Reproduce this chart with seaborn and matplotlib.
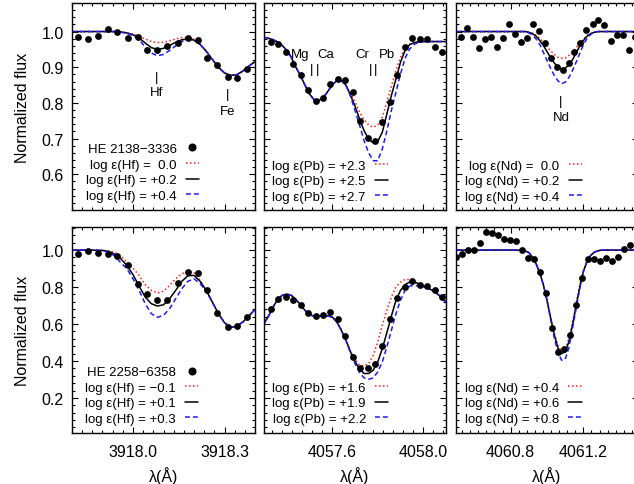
import numpy as np
import pandas as pd
import matplotlib
matplotlib.use("Agg")
import matplotlib.pyplot as plt
from matplotlib.lines import Line2D
from matplotlib.ticker import FixedLocator, MultipleLocator, FormatStrFormatter
import seaborn as sns

# ---------------------------------------------------------------- data
# Hf 3918 region (both stars share the same pixel sampling)
hf_obs_wl = [3917.819, 3917.852, 3917.884, 3917.917, 3917.949, 3917.982, 3918.015,
             3918.047, 3918.080, 3918.113, 3918.146, 3918.179, 3918.212, 3918.244,
             3918.277, 3918.310, 3918.342, 3918.375]
hf_grid = [3917.80, 3917.82, 3917.84, 3917.86, 3917.88, 3917.90, 3917.92, 3917.94,
           3917.96, 3917.98, 3918.00, 3918.02, 3918.04, 3918.06, 3918.08, 3918.10,
           3918.12, 3918.14, 3918.16, 3918.18, 3918.20, 3918.22, 3918.24, 3918.26,
           3918.28, 3918.30, 3918.32, 3918.34, 3918.36, 3918.38, 3918.40]

# HE 2138-3336, Hf
hf_a_obs = [0.984, 0.978, 0.988, 1.007, 1.000, 0.983, 0.984, 0.949, 0.947, 0.959,
            0.967, 0.983, 0.977, 0.925, 0.905, 0.872, 0.871, 0.894]
hf_a_lo = [1.000, 1.000, 1.000, 1.000, 1.000, 1.000, 1.000, 1.000, 0.999, 0.997,
           0.993, 0.987, 0.979, 0.972, 0.969, 0.970, 0.974, 0.979, 0.983, 0.984,
           0.978, 0.964, 0.945, 0.922, 0.900, 0.884, 0.877, 0.879, 0.889, 0.903, 0.916]
hf_a_mid = [1.000, 1.000, 1.000, 1.000, 1.000, 1.000, 1.000, 1.000, 0.999, 0.996,
            0.991, 0.982, 0.968, 0.955, 0.950, 0.953, 0.961, 0.970, 0.977, 0.979,
            0.976, 0.964, 0.945, 0.922, 0.900, 0.884, 0.877, 0.879, 0.889, 0.903, 0.916]
hf_a_hi = [1.000, 1.000, 1.000, 1.000, 1.000, 1.000, 1.000, 1.000, 0.998, 0.995,
           0.989, 0.977, 0.957, 0.940, 0.932, 0.936, 0.947, 0.960, 0.972, 0.977,
           0.975, 0.964, 0.945, 0.922, 0.900, 0.884, 0.877, 0.879, 0.889, 0.903, 0.916]
hf_a_labels = ["log \u03b5(Hf) =  0.0", "log \u03b5(Hf) = +0.2", "log \u03b5(Hf) = +0.4"]

# HE 2258-6358, Hf
hf_b_obs = [0.980, 0.993, 0.986, 0.980, 0.966, 0.921, 0.816, 0.762, 0.732, 0.728,
            0.823, 0.881, 0.876, 0.786, 0.659, 0.584, 0.591, 0.640]
hf_b_lo = [1.000, 1.000, 1.000, 1.000, 1.000, 0.999, 0.996, 0.987, 0.968, 0.935,
           0.903, 0.863, 0.813, 0.782, 0.768, 0.777, 0.809, 0.845, 0.872, 0.885,
           0.877, 0.836, 0.782, 0.719, 0.656, 0.607, 0.582, 0.587, 0.611, 0.643, 0.679]
hf_b_mid = [1.000, 1.000, 1.000, 1.000, 0.999, 0.998, 0.993, 0.978, 0.953, 0.917,
            0.867, 0.805, 0.746, 0.710, 0.697, 0.704, 0.737, 0.782, 0.831, 0.861,
            0.863, 0.831, 0.782, 0.719, 0.656, 0.607, 0.582, 0.587, 0.611, 0.643, 0.679]
hf_b_hi = [1.000, 1.000, 1.000, 1.000, 0.999, 0.997, 0.989, 0.968, 0.932, 0.899,
           0.845, 0.782, 0.710, 0.656, 0.636, 0.647, 0.683, 0.737, 0.791, 0.831,
           0.845, 0.818, 0.778, 0.719, 0.656, 0.607, 0.582, 0.587, 0.611, 0.643, 0.679]
hf_b_labels = ["log \u03b5(Hf) = \u22120.1", "log \u03b5(Hf) = +0.1", "log \u03b5(Hf) = +0.3"]

# Pb 4057.8 region
pb_obs_wl = [4057.329, 4057.361, 4057.395, 4057.427, 4057.461, 4057.493, 4057.527,
             4057.559, 4057.592, 4057.625, 4057.658, 4057.691, 4057.724, 4057.757,
             4057.787, 4057.820, 4057.853, 4057.886, 4057.918, 4057.951, 4057.984,
             4058.016, 4058.050, 4058.082]
pb_grid = [4057.30, 4057.32, 4057.34, 4057.36, 4057.38, 4057.40, 4057.42, 4057.44,
           4057.46, 4057.48, 4057.50, 4057.52, 4057.54, 4057.56, 4057.58, 4057.60,
           4057.62, 4057.64, 4057.66, 4057.68, 4057.70, 4057.72, 4057.74, 4057.76,
           4057.78, 4057.80, 4057.82, 4057.84, 4057.86, 4057.88, 4057.90, 4057.92,
           4057.94, 4057.96, 4057.98, 4058.00, 4058.02, 4058.04, 4058.06, 4058.08,
           4058.10]

pb_a_obs = [0.970, 0.964, 0.944, 0.909, 0.879, 0.837, 0.805, 0.813, 0.852, 0.867,
            0.864, 0.830, 0.748, 0.701, 0.692, 0.746, 0.802, 0.879, 0.956, 0.981,
            0.978, 0.978, 0.958, 0.942]
pb_a_lo = [0.984, 0.981, 0.977, 0.971, 0.961, 0.947, 0.928, 0.900, 0.877, 0.850,
           0.825, 0.809, 0.807, 0.814, 0.832, 0.850, 0.863, 0.862, 0.850,
           0.827, 0.804, 0.774, 0.753, 0.738, 0.732, 0.738, 0.760, 0.802, 0.847,
           0.891, 0.928, 0.953, 0.965, 0.970, 0.972, 0.972, 0.972, 0.972, 0.972,
           0.972, 0.972]
pb_a_mid = [0.984, 0.981, 0.977, 0.971, 0.961, 0.947, 0.928, 0.900, 0.877, 0.850,
            0.825, 0.809, 0.807, 0.814, 0.832, 0.850, 0.863, 0.862, 0.850,
            0.822, 0.791, 0.755, 0.722, 0.699, 0.688, 0.692, 0.718, 0.769, 0.821,
            0.867, 0.914, 0.947, 0.963, 0.969, 0.971, 0.972, 0.972, 0.972, 0.972,
            0.972, 0.972]
pb_a_hi = [0.984, 0.981, 0.977, 0.971, 0.961, 0.947, 0.928, 0.900, 0.877, 0.850,
           0.825, 0.809, 0.807, 0.814, 0.832, 0.850, 0.863, 0.862, 0.850,
           0.819, 0.779, 0.738, 0.694, 0.660, 0.638, 0.638, 0.671, 0.722, 0.779,
           0.830, 0.881, 0.925, 0.951, 0.964, 0.970, 0.972, 0.972, 0.972, 0.972,
           0.972, 0.972]
pb_a_labels = ["log \u03b5(Pb) = +2.3", "log \u03b5(Pb) = +2.5", "log \u03b5(Pb) = +2.7"]

pb_b_obs = [0.683, 0.737, 0.746, 0.728, 0.701, 0.661, 0.643, 0.647, 0.665, 0.629,
            0.533, 0.422, 0.362, 0.362, 0.386, 0.481, 0.629, 0.741, 0.800, 0.831,
            0.813, 0.804, 0.786, 0.748]
pb_b_lo = [0.602, 0.643, 0.692, 0.733, 0.755, 0.762, 0.755, 0.733, 0.705, 0.674,
           0.651, 0.642, 0.643, 0.643, 0.643, 0.638, 0.611, 0.566, 0.512,
           0.455, 0.409, 0.377, 0.373, 0.386, 0.431, 0.503, 0.593, 0.674, 0.746,
           0.800, 0.827, 0.841, 0.841, 0.831, 0.818, 0.805, 0.795, 0.782, 0.764,
           0.746, 0.715]
pb_b_mid = [0.602, 0.643, 0.692, 0.733, 0.755, 0.762, 0.755, 0.733, 0.705, 0.674,
            0.651, 0.642, 0.643, 0.643, 0.643, 0.638, 0.611, 0.566, 0.512,
            0.449, 0.398, 0.355, 0.332, 0.332, 0.350, 0.395, 0.467, 0.553, 0.643,
            0.728, 0.782, 0.813, 0.827, 0.827, 0.818, 0.805, 0.795, 0.782, 0.764,
            0.746, 0.715]
pb_b_hi = [0.602, 0.643, 0.692, 0.733, 0.755, 0.762, 0.755, 0.733, 0.705, 0.674,
           0.651, 0.642, 0.643, 0.643, 0.643, 0.638, 0.611, 0.566, 0.512,
           0.445, 0.386, 0.337, 0.308, 0.301, 0.308, 0.341, 0.395, 0.476, 0.566,
           0.656, 0.728, 0.782, 0.805, 0.809, 0.805, 0.800, 0.795, 0.782, 0.764,
           0.746, 0.715]
pb_b_labels = ["log \u03b5(Pb) = +1.6", "log \u03b5(Pb) = +1.9", "log \u03b5(Pb) = +2.2"]

# Nd 4061.08 region
nd_obs_wl = [4060.528, 4060.561, 4060.594, 4060.628, 4060.661, 4060.694, 4060.727,
             4060.760, 4060.791, 4060.824, 4060.855, 4060.888, 4060.921, 4060.954,
             4060.987, 4061.020, 4061.053, 4061.086, 4061.119, 4061.150, 4061.183,
             4061.216, 4061.250, 4061.282, 4061.315, 4061.349, 4061.382, 4061.415,
             4061.448, 4061.481]
nd_grid = [4060.50, 4060.60, 4060.70, 4060.80, 4060.86, 4060.88, 4060.90, 4060.92,
           4060.94, 4060.96, 4060.98, 4061.00, 4061.02, 4061.04, 4061.06, 4061.08,
           4061.10, 4061.12, 4061.14, 4061.16, 4061.18, 4061.20, 4061.22, 4061.24,
           4061.26, 4061.28, 4061.30, 4061.40, 4061.50]

nd_a_obs = [0.984, 1.009, 0.984, 0.954, 0.978, 0.984, 0.956, 0.981, 1.021, 0.992,
            0.970, 0.982, 1.022, 1.002, 0.967, 0.927, 0.902, 0.893, 0.911, 0.942,
            0.967, 1.003, 1.020, 1.031, 1.019, 0.973, 0.990, 0.991, 0.949, 0.984]
nd_a_lo = [1.000, 1.000, 1.000, 1.000, 1.000, 1.000, 0.998, 0.995, 0.990, 0.981,
           0.970, 0.958, 0.946, 0.936, 0.928, 0.925, 0.926, 0.933, 0.942, 0.955,
           0.967, 0.979, 0.989, 0.994, 0.998, 1.000, 1.000, 1.000, 1.000]
nd_a_mid = [1.000, 1.000, 1.000, 1.000, 1.000, 1.000, 0.998, 0.994, 0.987, 0.975,
            0.961, 0.944, 0.927, 0.912, 0.901, 0.895, 0.897, 0.907, 0.921, 0.940,
            0.959, 0.975, 0.987, 0.994, 0.998, 1.000, 1.000, 1.000, 1.000]
nd_a_hi = [1.000, 1.000, 1.000, 1.000, 1.000, 1.000, 0.996, 0.991, 0.979, 0.964,
           0.942, 0.919, 0.897, 0.877, 0.862, 0.854, 0.858, 0.871, 0.891, 0.914,
           0.939, 0.963, 0.981, 0.992, 0.998, 1.000, 1.000, 1.000, 1.000]
nd_a_labels = ["log \u03b5(Nd) =  0.0", "log \u03b5(Nd) = +0.2", "log \u03b5(Nd) = +0.4"]

nd_b_obs = [0.962, 0.980, 0.998, 0.998, 1.036, 1.097, 1.095, 1.079, 1.061, 1.052,
            1.049, 1.002, 0.957, 0.950, 0.881, 0.766, 0.578, 0.449, 0.463, 0.539,
            0.701, 0.849, 0.950, 0.950, 0.941, 0.957, 0.939, 0.962, 1.007, 1.029]
nd_b_obs_wl = [4060.501, 4060.534, 4060.567, 4060.600, 4060.633, 4060.666, 4060.699,
               4060.732, 4060.765, 4060.798, 4060.831, 4060.864, 4060.895, 4060.928,
               4060.960, 4060.994, 4061.026, 4061.061, 4061.094, 4061.125, 4061.158,
               4061.191, 4061.224, 4061.257, 4061.290, 4061.323, 4061.356, 4061.389,
               4061.422, 4061.455]
nd_b_lo = [1.000, 1.000, 1.000, 1.000, 1.000, 0.996, 0.986, 0.962, 0.926, 0.877,
           0.813, 0.728, 0.640, 0.550, 0.485, 0.452, 0.463, 0.521, 0.607, 0.710,
           0.809, 0.885, 0.939, 0.971, 0.989, 0.996, 1.000, 1.000, 1.000]
nd_b_mid = [1.000, 1.000, 1.000, 1.000, 1.000, 0.996, 0.986, 0.962, 0.926, 0.877,
            0.813, 0.728, 0.632, 0.542, 0.470, 0.440, 0.449, 0.503, 0.593, 0.697,
            0.800, 0.885, 0.939, 0.971, 0.989, 0.996, 1.000, 1.000, 1.000]
nd_b_hi = [1.000, 1.000, 1.000, 1.000, 1.000, 0.996, 0.986, 0.962, 0.926, 0.877,
           0.813, 0.728, 0.625, 0.525, 0.445, 0.404, 0.409, 0.470, 0.575, 0.683,
           0.791, 0.885, 0.939, 0.971, 0.989, 0.996, 1.000, 1.000, 1.000]
nd_b_labels = ["log \u03b5(Nd) = +0.4", "log \u03b5(Nd) = +0.6", "log \u03b5(Nd) = +0.8"]

star_top = "HE 2138\u22123336"
star_bottom = "HE 2258\u22126358"

# ---------------------------------------------------------------- style
sns.set_style("ticks")
plt.rcParams["font.family"] = ["Liberation Sans", "DejaVu Sans"]
plt.rcParams.update({
    "axes.edgecolor": "black", "axes.linewidth": 1.0,
    "text.color": "black", "axes.labelcolor": "black",
    "xtick.color": "black", "ytick.color": "black",
})

MODEL_COLORS = ["#ff1a1a", "black", "#1a1aff"]
MODEL_DASHES = [(1.0, 1.6), "", (3.2, 2.0)]
LW = 1.1
FS_TICK = 11.5
FS_SMALL = 9.5

W, H = 634, 485
fig = plt.figure(figsize=(W / 100, H / 100), dpi=100)


def add_axes_px(left, top, right, bottom):
    return fig.add_axes([left / W, 1 - bottom / H, (right - left) / W, (bottom - top) / H])


def draw_panel(ax, obs_wl, obs_flux, grid, models, labels, star=None,
               legend_anchor=(0.69, 0.04)):
    frames = []
    for lab, flux in zip(labels, models):
        frames.append(pd.DataFrame({"wl": grid, "flux": flux, "model": lab}))
    df = pd.concat(frames, ignore_index=True)
    sns.lineplot(data=df, x="wl", y="flux", hue="model", style="model",
                 hue_order=labels, style_order=labels,
                 palette=dict(zip(labels, MODEL_COLORS)),
                 dashes=dict(zip(labels, MODEL_DASHES)),
                 estimator=None, sort=False, linewidth=LW, legend=False, ax=ax)
    sns.scatterplot(x=obs_wl, y=obs_flux, color="black", s=24, linewidth=0,
                    legend=False, ax=ax, zorder=5)

    handles, texts = [], []
    if star is not None:
        handles.append(Line2D([], [], marker="o", color="black", linestyle="none",
                              markersize=4.8))
        texts.append(star)
    for c, d, lab in zip(MODEL_COLORS, MODEL_DASHES, labels):
        ls = "-" if d == "" else (0, d)
        handles.append(Line2D([], [], color=c, linestyle=ls, linewidth=LW))
        texts.append(lab)
    ax.legend(handles, texts, loc="lower right", bbox_to_anchor=legend_anchor,
              frameon=False, markerfirst=False, fontsize=FS_SMALL,
              handlelength=1.0, handletextpad=0.7, labelspacing=0.25,
              borderpad=0, borderaxespad=0)


def style_axes(ax, xlim, ylim, xmajor, xminor, ymajor, yminor, left_labels, bottom_labels):
    ax.set_xlim(*xlim)
    ax.set_ylim(*ylim)
    ax.xaxis.set_major_locator(FixedLocator(xmajor))
    ax.xaxis.set_minor_locator(MultipleLocator(xminor))
    ax.yaxis.set_major_locator(FixedLocator(ymajor))
    ax.yaxis.set_minor_locator(MultipleLocator(yminor))
    ax.xaxis.set_major_formatter(FormatStrFormatter("%.1f"))
    ax.yaxis.set_major_formatter(FormatStrFormatter("%.1f"))
    ax.tick_params(which="both", direction="in", top=True, right=True,
                   labelsize=FS_TICK, width=0.8)
    ax.tick_params(which="major", length=4.5)
    ax.tick_params(which="minor", length=2.2)
    ax.tick_params(axis="x", pad=8)
    ax.tick_params(axis="y", pad=6)
    ax.tick_params(labelleft=left_labels, labelbottom=bottom_labels)
    ax.set_xlabel("")
    ax.set_ylabel("")
    for s in ax.spines.values():
        s.set_visible(True)
        s.set_linewidth(1.0)


cols = [(72, 255), (264, 446), (456, 638)]
rows = [(4, 211), (228, 434)]
xlims = [(3917.8, 3918.4), (4057.3, 4058.1), (4060.5, 4061.5)]
xmajors = [[3918.0, 3918.3], [4057.6, 4058.0], [4060.8, 4061.2]]
xminors = [0.3 / 9, 0.4 / 9, 0.4 / 9]
ylims = [(0.5, 1.08), (0.01, 1.125)]
ymajors = [[0.6, 0.7, 0.8, 0.9, 1.0], [0.2, 0.4, 0.6, 0.8, 1.0]]
yminors = [0.02, 0.04]

axes = [[add_axes_px(c[0], r[0], c[1], r[1]) for c in cols] for r in rows]

# top row: HE 2138-3336
draw_panel(axes[0][0], hf_obs_wl, hf_a_obs, hf_grid, [hf_a_lo, hf_a_mid, hf_a_hi],
           hf_a_labels, star=star_top, legend_anchor=(0.694, 0.04))
draw_panel(axes[0][1], pb_obs_wl, pb_a_obs, pb_grid, [pb_a_lo, pb_a_mid, pb_a_hi],
           pb_a_labels, legend_anchor=(0.682, 0.035))
draw_panel(axes[0][2], nd_obs_wl, nd_a_obs, nd_grid, [nd_a_lo, nd_a_mid, nd_a_hi],
           nd_a_labels, legend_anchor=(0.692, 0.035))
# bottom row: HE 2258-6358
draw_panel(axes[1][0], hf_obs_wl, hf_b_obs, hf_grid, [hf_b_lo, hf_b_mid, hf_b_hi],
           hf_b_labels, star=star_bottom, legend_anchor=(0.69, 0.04))
draw_panel(axes[1][1], pb_obs_wl, pb_b_obs, pb_grid, [pb_b_lo, pb_b_mid, pb_b_hi],
           pb_b_labels, legend_anchor=(0.683, 0.04))
draw_panel(axes[1][2], nd_b_obs_wl, nd_b_obs, nd_grid, [nd_b_lo, nd_b_mid, nd_b_hi],
           nd_b_labels, legend_anchor=(0.69, 0.04))

for i in range(2):
    for j in range(3):
        style_axes(axes[i][j], xlims[j], ylims[i], xmajors[j], xminors[j],
                   ymajors[i], yminors[i], left_labels=(j == 0), bottom_labels=(i == 1))
    axes[i][0].set_ylabel("Normalized flux", fontsize=11.5, labelpad=8)
for j in range(3):
    axes[1][j].set_xlabel("\u03bb(\u00c5)", fontsize=11.5, labelpad=5)

# line identifications in the top row
line_ids = [
    (axes[0][0], [(3918.078, 0.874, 0.831, "Hf"), (3918.311, 0.825, 0.777, "Fe")]),
    (axes[0][2], [(4061.077, 0.805, 0.761, "Nd")]),
]
for ax, ids in line_ids:
    for x, ybar, ytxt, name in ids:
        ax.text(x, ybar, "|", ha="center", va="center", fontsize=FS_SMALL)
        ax.text(x, ytxt, name, ha="center", va="center", fontsize=FS_SMALL)

ax = axes[0][1]
for x in [4057.507, 4057.536, 4057.770, 4057.792]:
    ax.text(x, 0.895, "|", ha="center", va="center", fontsize=FS_SMALL)
for x, name in [(4057.458, "Mg"), (4057.573, "Ca"), (4057.734, "Cr"), (4057.839, "Pb")]:
    ax.text(x, 0.938, name, ha="center", va="center", fontsize=FS_SMALL)

fig.savefig("out.png", dpi=100)
